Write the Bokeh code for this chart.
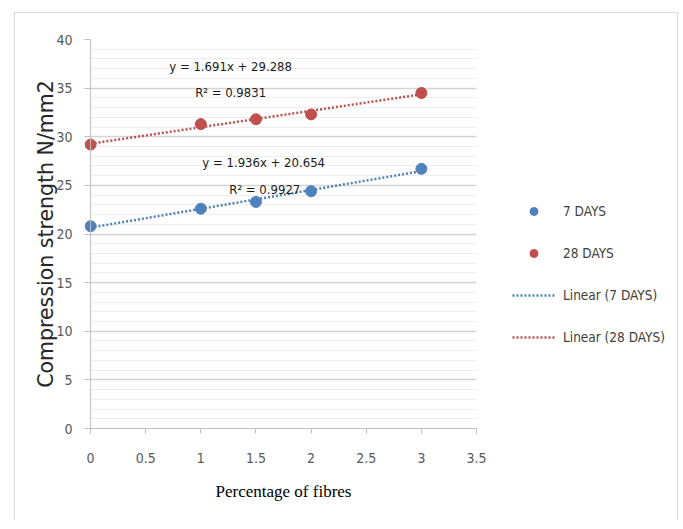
from bokeh.plotting import figure
from bokeh.models import Range1d, FixedTicker, Legend, LegendItem, Label, Span
from bokeh.embed import file_html
from bokeh.resources import INLINE

# ---- data ----
fibres = [0, 1, 1.5, 2, 3]
days7 = [20.8, 22.6, 23.3, 24.4, 26.7]
days28 = [29.2, 31.3, 31.8, 32.3, 34.5]
series_names = ["7 DAYS", "28 DAYS"]
fit7 = (1.936, 20.654)      # slope, intercept
fit28 = (1.691, 29.288)
r2_7 = 0.9927
r2_28 = 0.9831
x_ticks = [0, 0.5, 1, 1.5, 2, 2.5, 3, 3.5]
x_tick_labels = ["0", "0.5", "1", "1.5", "2", "2.5", "3", "3.5"]
y_ticks = [0, 5, 10, 15, 20, 25, 30, 35, 40]
y_tick_labels = ["0", "5", "10", "15", "20", "25", "30", "35", "40"]
y_minor = list(range(0, 41))
x_title = "Percentage of fibres"
y_title = "Compression strength N/mm2"

BLUE = "#4f81bd"
RED = "#c0504d"
NARROW = "DejaVu Sans Condensed"

# frame: x from -0.055 (room for markers on the y axis) to 5.25 (room for the legend)
p = figure(width=664, height=508,
           x_range=Range1d(-0.055, 5.25), y_range=Range1d(0, 40),
           output_backend="svg", toolbar_location=None,
           min_border_left=69, min_border_right=10,
           min_border_top=26, min_border_bottom=93)
p.styles = {"border": "1px solid #d9d9d9", "border-bottom": "none",
            "transform": "translate(14px, 12px)"}
p.outline_line_color = None
p.background_fill_color = "white"
p.border_fill_color = "white"

# grid
yt = FixedTicker(ticks=y_ticks, minor_ticks=y_minor)
p.yaxis.ticker = yt
p.ygrid.ticker = yt
p.ygrid.grid_line_color = "#d4d4d4"
p.ygrid.grid_line_width = 1.3
p.ygrid.minor_grid_line_color = "#eeeeee"
p.ygrid.minor_grid_line_width = 1
p.ygrid.cross_bounds = (0, 3.5)
p.xgrid.grid_line_color = None

p.xaxis.ticker = FixedTicker(ticks=x_ticks)
p.xaxis.major_label_overrides = {t: l for t, l in zip(x_ticks, x_tick_labels)}
p.yaxis.major_label_overrides = {t: l for t, l in zip(y_ticks, y_tick_labels)}
p.xaxis.bounds = (0, 3.5)

for ax in (p.xaxis[0], p.yaxis[0]):
    ax.axis_line_color = "#bfbfbf"
    ax.major_tick_line_color = "#bfbfbf"
    ax.minor_tick_line_color = None
    ax.major_label_text_font = NARROW
    ax.major_label_text_font_size = "14px"
    ax.major_label_text_color = "#595959"

p.xaxis.major_tick_out = 5
p.xaxis.major_tick_in = 0
p.yaxis.axis_line_color = None
p.yaxis.major_tick_out = 0
p.yaxis.major_tick_in = 6
p.add_layout(Span(location=0, dimension="height", line_color="#bfbfbf", line_width=1))

p.yaxis.major_label_standoff = 8
p.xaxis.major_label_standoff = 19

p.yaxis.axis_label = y_title
p.yaxis.axis_label_text_font = "DejaVu Sans"
p.yaxis.axis_label_text_font_style = "normal"
p.yaxis.axis_label_text_font_size = "20.5px"
p.yaxis.axis_label_text_color = "#262626"
p.yaxis.axis_label_standoff = -5

# the axis title is centred on the frame; trailing no-break spaces move it over the 0-3.5 axis
p.xaxis.axis_label = x_title + "\u00a0" * 44
p.xaxis.axis_label_text_font = "Liberation Serif"
p.xaxis.axis_label_text_font_style = "normal"
p.xaxis.axis_label_text_font_size = "17px"
p.xaxis.axis_label_text_color = "black"
p.xaxis.axis_label_standoff = 16

# trendlines
tx = [min(fibres), max(fibres)]
ty7 = [fit7[0] * x + fit7[1] for x in tx]
ty28 = [fit28[0] * x + fit28[1] for x in tx]
l7 = p.line(tx, ty7, line_color=BLUE, line_width=2.5, line_dash="2 2")
l28 = p.line(tx, ty28, line_color=RED, line_width=2.5, line_dash="2 2")

# points
s7 = p.scatter(fibres, days7, size=11, fill_color=BLUE, line_color=BLUE)
s28 = p.scatter(fibres, days28, size=11, fill_color=RED, line_color=RED)

# equation labels
def lab(x, y, t):
    p.add_layout(Label(x=x, y=y, text=t, text_align="center", text_baseline="middle",
                       text_font=NARROW, text_font_size="13px", text_color="#1a1a1a"))

lab(1.27, 37.2, "y = %.3fx + %.3f" % fit28)
lab(1.27, 34.5, "R\u00b2 = %.4f" % r2_28)
lab(1.57, 27.4, "y = %.3fx + %.3f" % fit7)
lab(1.58, 24.6, "R\u00b2 = %.4f" % r2_7)

legend = Legend(items=[
    LegendItem(label=series_names[0], renderers=[s7]),
    LegendItem(label=series_names[1], renderers=[s28]),
    LegendItem(label="Linear (%s)" % series_names[0], renderers=[l7]),
    LegendItem(label="Linear (%s)" % series_names[1], renderers=[l28]),
], location=(428, 81))
legend.padding = 0
legend.margin = 0
legend.glyph_width = 43
legend.glyph_height = 20
legend.label_height = 20
legend.spacing = 22
legend.label_standoff = 8
legend.border_line_color = None
legend.background_fill_alpha = 0
legend.label_text_font = NARROW
legend.label_text_font_size = "13.5px"
legend.label_text_color = "#404040"
p.add_layout(legend)

open("out.html", "w").write(file_html(p, INLINE))
